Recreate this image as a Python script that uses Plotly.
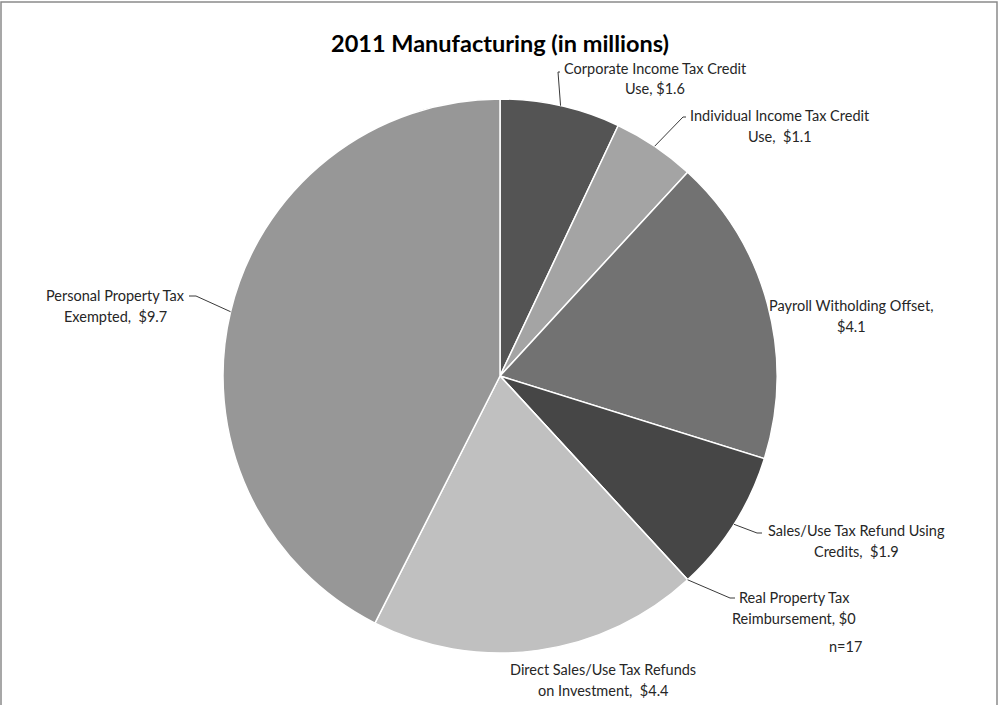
import math
import plotly.graph_objects as go

# Tax incentive amounts for 2011 manufacturing (millions of dollars)
categories = [
    "Corporate Income Tax Credit Use",
    "Individual Income Tax Credit Use",
    "Payroll Witholding Offset",
    "Sales/Use Tax Refund Using Credits",
    "Real Property Tax Reimbursement",
    "Direct Sales/Use Tax Refunds on Investment",
    "Personal Property Tax Exempted",
]
values = [1.6, 1.1, 4.1, 1.9, 0, 4.4, 9.7]
slice_colors = ["#545454", "#a4a4a4", "#727272", "#464646", "#b0b0b0", "#c0c0c0", "#979797"]

# label lines (first line, second line) for each slice
label_lines = [
    ("Corporate Income Tax Credit", "Use, $1.6"),
    ("Individual Income Tax Credit", "Use,  $1.1"),
    ("Payroll Witholding Offset,", "$4.1"),
    ("Sales/Use Tax Refund Using", "Credits,  $1.9"),
    ("Real Property Tax", "Reimbursement, $0"),
    ("Direct Sales/Use Tax Refunds", "on Investment,  $4.4"),
    ("Personal Property Tax", "Exempted,  $9.7"),
]
sample_note = "n=17"

W, H = 999, 705
CX, CY, R = 500, 376, 277


def px(x):
    return x / W


def py(y):
    return 1 - y / H


fig = go.Figure(
    go.Pie(
        labels=categories,
        values=values,
        sort=False,
        direction="clockwise",
        rotation=0,
        textinfo="none",
        hoverinfo="label+value",
        marker=dict(colors=slice_colors, line=dict(color="#ffffff", width=1.5)),
        domain=dict(x=[px(CX - R), px(CX + R)], y=[py(CY + R), py(CY - R)]),
        showlegend=False,
    )
)

# label block positions (pixels, first line) and line-to-line spacing
label_pos = [
    (655, 68), (780, 115), (851, 305), (856, 530),
    (794, 597), (603, 669), (115, 295),
]
LINE_GAP = 21

# leader lines: from slice mid-edge to an elbow, then a short tick to the text
leader_elbows = {
    0: [(558, 72), (560, 72)],
    1: [(683, 117), (686, 117)],
    3: [(757, 533), (762, 533)],
    4: [(730, 598), (735, 598)],
    6: [(196, 296), (189, 296)],
}

total = sum(values)
cum = 0.0
mid_points = []
for v in values:
    ang = (cum + v / 2) / total * 2 * math.pi
    mid_points.append((CX + R * math.sin(ang), CY - R * math.cos(ang)))
    cum += v

shapes = []
for i, elbow in leader_elbows.items():
    pts = [mid_points[i]] + elbow
    path = "M " + " L ".join(f"{px(x)},{py(y)}" for x, y in pts)
    shapes.append(dict(type="path", xref="paper", yref="paper", path=path,
                       line=dict(color="#3a3a3a", width=1)))

# outer chart border
shapes.append(dict(type="rect", xref="paper", yref="paper",
                   x0=px(1), y0=py(720), x1=px(997), y1=py(2),
                   line=dict(color="#8a8a8a", width=1.5), fillcolor="rgba(0,0,0,0)"))

FONT = "Lato"
LABEL_FONT = dict(family=FONT, size=14.5, color="#262626")
annotations = []
for (l1, l2), (x, y) in zip(label_lines, label_pos):
    for k, line in enumerate((l1, l2)):
        annotations.append(dict(
            x=px(x), y=py(y + k * LINE_GAP), xref="paper", yref="paper",
            text=line, showarrow=False, xanchor="center", yanchor="middle",
            font=LABEL_FONT,
        ))
annotations.append(dict(
    x=px(845), y=py(646), xref="paper", yref="paper", text=sample_note,
    showarrow=False, xanchor="center", yanchor="middle", font=LABEL_FONT,
))
annotations.append(dict(
    x=px(500), y=py(43), xref="paper", yref="paper",
    text="<b>2011 Manufacturing (in millions)</b>", showarrow=False,
    xanchor="center", yanchor="middle",
    font=dict(family=FONT, size=23.5, color="#000000"),
))

fig.update_layout(
    width=W, height=H,
    margin=dict(l=0, r=0, t=0, b=0),
    paper_bgcolor="#ffffff",
    plot_bgcolor="#ffffff",
    shapes=shapes,
    annotations=annotations,
)

fig.write_html("out.html", config={"displayModeBar": False})
